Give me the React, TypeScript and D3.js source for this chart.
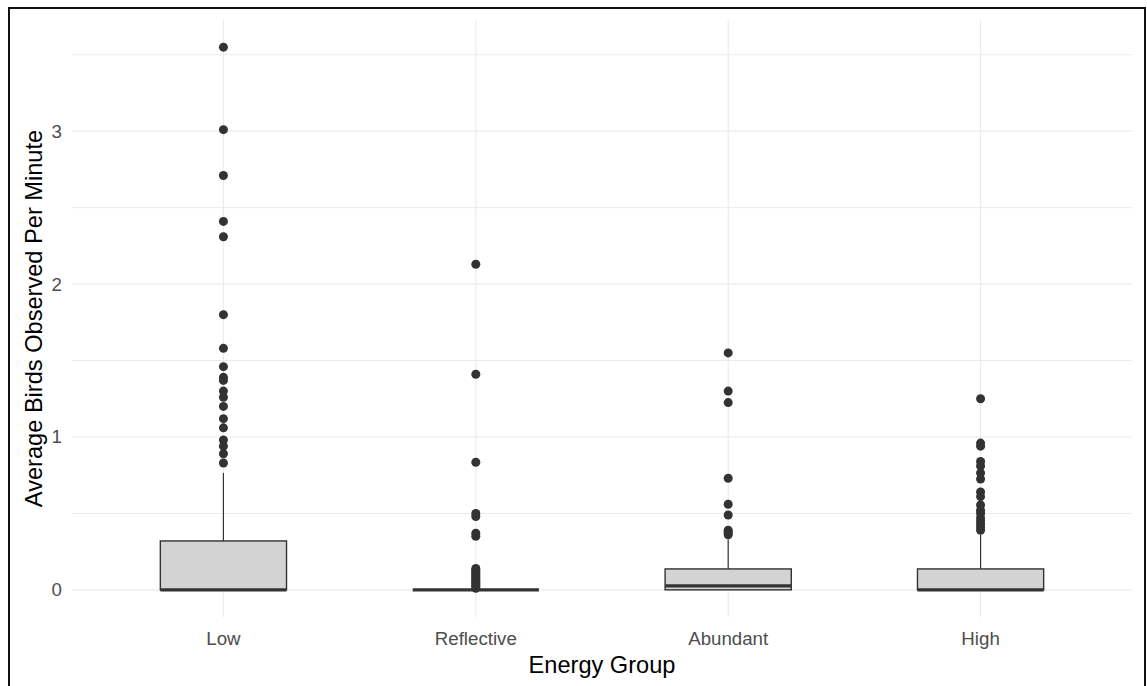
import React, { useEffect, useRef } from 'react';
import * as d3 from 'd3';

// Categories and box statistics
const groups = ['Low', 'Reflective', 'Abundant', 'High'];
const q1 = [0, 0, 0, 0];
const medians = [0, 0, 0.026, 0];
const q3 = [0.32, 0, 0.137, 0.137];
const whiskerLow = [0, 0, 0, 0];
const whiskerHigh = [0.765, 0, 0.33, 0.36];

// Outliers per group
const outliersLow = [3.55, 3.01, 2.71, 2.41, 2.31, 1.8, 1.58, 1.46, 1.39, 1.37, 1.3, 1.26, 1.2, 1.12, 1.06, 0.98, 0.94, 0.89, 0.83];
const outliersReflective = [2.13, 1.41, 0.835, 0.5, 0.48, 0.37, 0.35, 0.14, 0.13, 0.12, 0.11, 0.1, 0.09, 0.08, 0.07, 0.06, 0.05, 0.04, 0.03, 0.02, 0.01];
const outliersAbundant = [1.55, 1.3, 1.225, 0.73, 0.56, 0.49, 0.39, 0.38, 0.37, 0.36];
const outliersHigh = [1.25, 0.96, 0.94, 0.84, 0.81, 0.765, 0.725, 0.64, 0.61, 0.555, 0.52, 0.5, 0.47, 0.45, 0.43, 0.41, 0.39];
const outliers = [outliersLow, outliersReflective, outliersAbundant, outliersHigh];

const yMajor = [0, 1, 2, 3];
const yMinor = [0.5, 1.5, 2.5, 3.5];

const App = () => {
  const ref = useRef(null);

  useEffect(() => {
    const width = 1147;
    const height = 686;
    const panel = { left: 72, right: 1132, top: 20, bottom: 617 };
    const font = 'Arial, "Liberation Sans", sans-serif';

    const svg = d3.select(ref.current);
    svg.selectAll('*').remove();
    svg.attr('width', width).attr('height', height);

    svg.append('rect').attr('width', width).attr('height', height).attr('fill', '#fff');

    const x = d3
      .scalePoint()
      .domain(groups)
      .range([panel.left, panel.right])
      .padding(0.6);
    const boxW = x.step() * 0.5;

    const y = d3
      .scaleLinear()
      .domain([-0.1775, 3.7275])
      .range([panel.bottom, panel.top]);

    // grid
    const grid = svg.append('g');
    grid
      .selectAll('line.minor')
      .data(yMinor)
      .join('line')
      .attr('x1', panel.left)
      .attr('x2', panel.right)
      .attr('y1', (d) => y(d))
      .attr('y2', (d) => y(d))
      .attr('stroke', '#EBEBEB')
      .attr('stroke-width', 1);
    grid
      .selectAll('line.major')
      .data(yMajor)
      .join('line')
      .attr('x1', panel.left)
      .attr('x2', panel.right)
      .attr('y1', (d) => y(d))
      .attr('y2', (d) => y(d))
      .attr('stroke', '#EBEBEB')
      .attr('stroke-width', 1.2);
    grid
      .selectAll('line.vx')
      .data(groups)
      .join('line')
      .attr('x1', (d) => x(d))
      .attr('x2', (d) => x(d))
      .attr('y1', panel.top)
      .attr('y2', panel.bottom)
      .attr('stroke', '#EBEBEB')
      .attr('stroke-width', 1.2);

    // boxes
    groups.forEach((g, i) => {
      const cx = x(g);
      const bg = svg.append('g');
      bg.append('line')
        .attr('x1', cx)
        .attr('x2', cx)
        .attr('y1', y(q3[i]))
        .attr('y2', y(whiskerHigh[i]))
        .attr('stroke', '#333333')
        .attr('stroke-width', 1.2);
      bg.append('line')
        .attr('x1', cx)
        .attr('x2', cx)
        .attr('y1', y(q1[i]))
        .attr('y2', y(whiskerLow[i]))
        .attr('stroke', '#333333')
        .attr('stroke-width', 1.2);
      bg.append('rect')
        .attr('x', cx - boxW / 2)
        .attr('width', boxW)
        .attr('y', y(q3[i]))
        .attr('height', Math.max(0, y(q1[i]) - y(q3[i])))
        .attr('fill', '#D3D3D3')
        .attr('stroke', '#333333')
        .attr('stroke-width', 1.4);
      bg.append('line')
        .attr('x1', cx - boxW / 2)
        .attr('x2', cx + boxW / 2)
        .attr('y1', y(medians[i]))
        .attr('y2', y(medians[i]))
        .attr('stroke', '#333333')
        .attr('stroke-width', 3.4);
      bg.selectAll('circle')
        .data(outliers[i])
        .join('circle')
        .attr('cx', cx)
        .attr('cy', (d) => y(d))
        .attr('r', 4.5)
        .attr('fill', '#333333');
    });

    // y tick labels
    svg
      .append('g')
      .selectAll('text')
      .data(yMajor)
      .join('text')
      .attr('x', 62)
      .attr('y', (d) => y(d) + 6.5)
      .attr('text-anchor', 'end')
      .attr('font-family', font)
      .attr('font-size', 18.7)
      .attr('fill', '#4D4D4D')
      .text((d) => d);

    // x tick labels
    svg
      .append('g')
      .selectAll('text')
      .data(groups)
      .join('text')
      .attr('x', (d) => x(d))
      .attr('y', 645)
      .attr('text-anchor', 'middle')
      .attr('font-family', font)
      .attr('font-size', 18.7)
      .attr('fill', '#4D4D4D')
      .text((d) => d);

    // axis titles
    svg
      .append('text')
      .attr('x', (panel.left + panel.right) / 2)
      .attr('y', 673)
      .attr('text-anchor', 'middle')
      .attr('font-family', font)
      .attr('font-size', 23.6)
      .attr('fill', '#000')
      .text('Energy Group');

    svg
      .append('text')
      .attr('transform', `translate(42, ${(panel.top + panel.bottom) / 2}) rotate(-90)`)
      .attr('text-anchor', 'middle')
      .attr('font-family', font)
      .attr('font-size', 23.6)
      .attr('fill', '#000')
      .text('Average Birds Observed Per Minute');

    // outer frame
    svg
      .append('rect')
      .attr('x', 9)
      .attr('y', 8)
      .attr('width', 1136)
      .attr('height', 700)
      .attr('fill', 'none')
      .attr('stroke', '#111')
      .attr('stroke-width', 2);
  }, []);

  return <svg ref={ref} style={{ position: 'absolute', left: 0, top: 0 }}></svg>;
};

export default App;
